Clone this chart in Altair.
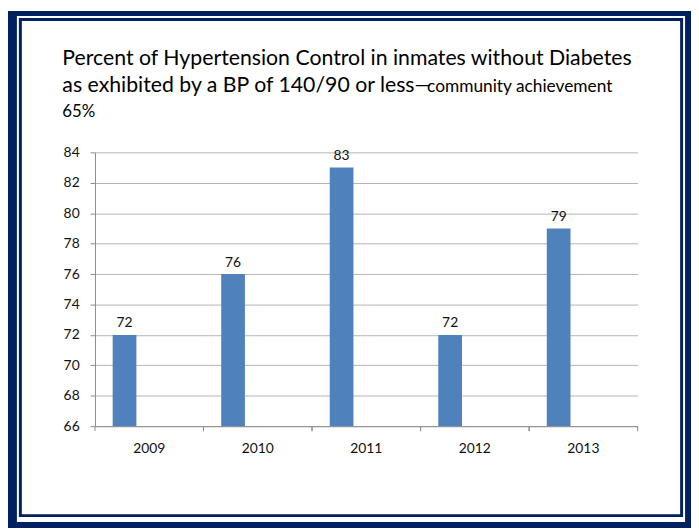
import altair as alt
import pandas as pd

# ---- data ----
years = ["2009", "2010", "2011", "2012", "2013"]
values = [72, 76, 83, 72, 79]
y_ticks = [66, 68, 70, 72, 74, 76, 78, 80, 82, 84]

title_line1 = "Percent of Hypertension Control in inmates without Diabetes"
title_line2 = "as exhibited by a BP of 140/90 or less\u2014"
title_line2_small = "community achievement"
title_line3 = "65%"

df = pd.DataFrame({"year": years, "value": values})
one = pd.DataFrame({"k": [0]})

FONT = "Lato"
NAVY = "#002060"
BAR = "#4F81BD"
W, H = 549, 277

x_axis = alt.Axis(ticks=False, labelPadding=16, labelAngle=0,
                  labelFontSize=14, labelFont=FONT, labelColor="#111111",
                  domainColor="#8C8C8C", grid=False)
y_axis = alt.Axis(values=y_ticks, tickSize=5, tickColor="#8C8C8C",
                  labelOverlap=False, labelPadding=11, labelFontSize=14,
                  labelFont=FONT, labelColor="#111111",
                  domainColor="#8C8C8C", gridColor="#B4B4B4", grid=True)
x_scale = alt.Scale(paddingInner=0, paddingOuter=0)
y_scale = alt.Scale(domain=[66, 84], nice=False, zero=False)

x_enc = alt.X("year:N", sort=years, title=None, scale=x_scale, axis=x_axis)
y_enc = alt.Y("value:Q", title=None, scale=y_scale, axis=y_axis)

base = alt.Chart(df)

bars = base.mark_bar(color=BAR, width=24, xOffset=-25, clip=True).encode(
    x=x_enc, y=y_enc, y2=alt.datum(66))

labels = base.mark_text(font=FONT, fontSize=14, color="#111111", baseline="alphabetic",
                        dy=-7.5, dx=-25).encode(
    x=x_enc, y=y_enc, text=alt.Text("value:Q"))

ticks0 = base.mark_rule(color="#8C8C8C", strokeWidth=1).encode(
    x=alt.X("year:N", sort=years, bandPosition=0, title=None, scale=x_scale, axis=x_axis),
    y=alt.value(H), y2=alt.value(H + 5))
ticks1 = base.mark_rule(color="#8C8C8C", strokeWidth=1).encode(
    x=alt.X("year:N", sort=years, bandPosition=1, title=None, scale=x_scale, axis=x_axis),
    y=alt.value(H), y2=alt.value(H + 5))

def txt(s, x, y, size):
    return alt.Chart(one).mark_text(font=FONT, fontSize=size, color="#000000",
                                    align="left", baseline="alphabetic").encode(
        x=alt.value(x), y=alt.value(y), text=alt.value(s))

t1 = txt(title_line1, -33, -88, 21.5)
t2 = txt(title_line2, -33, -61, 21.5)
t2s = txt(title_line2_small, 336, -61, 17.5)
t3 = txt(title_line3, -33, -36, 17)

def frame_rect(x, x2, y, y2):
    return alt.Chart(one).mark_rect(color=NAVY).encode(
        x=alt.value(x), x2=alt.value(x2), y=alt.value(y), y2=alt.value(y2))

f_left = frame_rect(-88, -79, -143, 380)
f_top = frame_rect(-88, 603, -143, -138)
f_right = frame_rect(597, 603, -143, 380)
f_bottom = frame_rect(-88, 603, 374, 380)
f_thin = alt.Chart(one).mark_rect(fillOpacity=0, stroke=NAVY, strokeWidth=3).encode(
    x=alt.value(-75.5), x2=alt.value(593.5), y=alt.value(-134.5), y2=alt.value(367.5))

chart = alt.layer(
    bars, labels, ticks0, ticks1, t1, t2, t2s, t3,
    f_left, f_top, f_right, f_bottom, f_thin
).properties(
    width=W, height=H,
    autosize=alt.AutoSizeParams(type="none"),
    padding={"left": 88, "top": 143, "right": 54, "bottom": 103},
    background="white",
).configure_view(stroke=None)

chart.save("out.html", embed_options={"renderer": "svg", "actions": False})
